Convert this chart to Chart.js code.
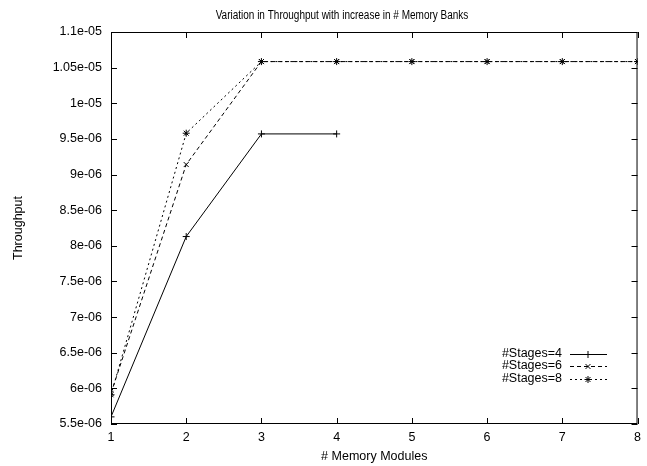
<!DOCTYPE html>
<html>
<head>
<meta charset="utf-8">
<script src="https://cdn.jsdelivr.net/npm/chart.js@4/dist/chart.umd.min.js"></script>
<style>
  html, body { margin: 0; padding: 0; background: #fff; }
  #wrap { width: 647px; height: 466px; }
</style>
</head>
<body>
<div id="wrap"><canvas id="grThroughput"></canvas></div>
<script>
const modules = [1, 2, 3, 4, 5, 6, 7, 8];

const stages4 = [5.6e-6, 8.13e-6, 9.57e-6, 9.57e-6];
const stages6 = [5.93e-6, 9.14e-6, 1.0585e-5, 1.0585e-5, 1.0585e-5, 1.0585e-5, 1.0585e-5, 1.0585e-5];
const stages8 = [5.91e-6, 9.58e-6, 1.0585e-5, 1.0585e-5, 1.0585e-5, 1.0585e-5, 1.0585e-5, 1.0585e-5];

const yTicks = [5.5e-6, 6e-6, 6.5e-6, 7e-6, 7.5e-6, 8e-6, 8.5e-6, 9e-6, 9.5e-6, 1e-5, 1.05e-5, 1.1e-5];
const yTickLabels = ['5.5e-06', '6e-06', '6.5e-06', '7e-06', '7.5e-06', '8e-06', '8.5e-06', '9e-06', '9.5e-06', '1e-05', '1.05e-05', '1.1e-05'];

const FONT = 'Liberation Sans, Arial, Helvetica, sans-serif';
const SIZE = 12.5;

function puntos(serie){
    return serie.map((v, i) => ({ x: modules[i], y: v }));
}

/* marco, ticks hacia adentro, titulo y leyenda estilo gnuplot */
const marcoPlugin = {
    id: 'marcoPlugin',
    afterDraw(chart) {
        const { ctx, chartArea: a, scales: { x, y } } = chart;
        ctx.save();
        ctx.strokeStyle = '#000';
        ctx.lineWidth = 1;
        ctx.strokeRect(a.left + 0.5, a.top + 0.5, a.right - a.left - 1, a.bottom - a.top - 1);

        ctx.beginPath();
        x.ticks.forEach(t => {
            const px = Math.round(x.getPixelForValue(t.value)) + 0.5;
            ctx.moveTo(px, a.bottom); ctx.lineTo(px, a.bottom - 6);
            ctx.moveTo(px, a.top); ctx.lineTo(px, a.top + 6);
        });
        y.ticks.forEach(t => {
            const py = Math.round(y.getPixelForValue(t.value)) + 0.5;
            ctx.moveTo(a.left, py); ctx.lineTo(a.left + 6, py);
            ctx.moveTo(a.right, py); ctx.lineTo(a.right - 6, py);
        });
        ctx.stroke();

        // titulo (letra angosta)
        ctx.fillStyle = '#000';
        ctx.font = SIZE + 'px ' + FONT;
        ctx.textAlign = 'center';
        ctx.textBaseline = 'alphabetic';
        ctx.save();
        ctx.translate(342, 19);
        ctx.scale(0.8, 1);
        ctx.fillText('Variation in Throughput with increase in # Memory Banks', 0, 0);
        ctx.restore();

        // leyenda
        const filas = [354, 366, 379];
        ctx.textAlign = 'right';
        ctx.textBaseline = 'middle';
        chart.data.datasets.forEach((ds, i) => {
            const fy = filas[i];
            ctx.fillStyle = '#000';
            ctx.fillText(ds.label, 562, fy);
            ctx.beginPath();
            ctx.setLineDash(ds.borderDash || []);
            ctx.moveTo(570, fy + 0.5);
            ctx.lineTo(607, fy + 0.5);
            ctx.stroke();
            ctx.setLineDash([]);
            Chart.helpers.drawPoint(ctx, {
                pointStyle: ds.pointStyle,
                radius: ds.pointRadius,
                borderWidth: 1
            }, 588, fy + 0.5);
        });
        ctx.restore();
    }
};

new Chart(document.getElementById('grThroughput').getContext('2d'), {
    type: 'line',
    data: {
        datasets: [{
            label: '#Stages=4',
            data: puntos(stages4),
            pointStyle: 'cross'
        }, {
            label: '#Stages=6',
            data: puntos(stages6),
            pointStyle: 'crossRot',
            borderDash: [4, 3]
        }, {
            label: '#Stages=8',
            data: puntos(stages8),
            pointStyle: 'star',
            borderDash: [2, 3]
        }].map(ds => Object.assign({
            borderColor: '#000',
            backgroundColor: '#000',
            borderWidth: 1,
            pointRadius: 3.5,
            pointBorderWidth: 1,
            pointBorderColor: '#000',
            tension: 0,
            fill: false
        }, ds))
    },
    options: {
        responsive: true,
        maintainAspectRatio: false,
        animation: false,
        layout: { padding: { top: 32, right: 0, left: 0, bottom: 0 } },
        plugins: {
            legend: { display: false },
            title: { display: false },
            tooltip: { enabled: false }
        },
        scales: {
            x: {
                type: 'linear',
                min: 1,
                max: 8,
                ticks: {
                    stepSize: 1,
                    padding: 6,
                    color: '#000',
                    font: { family: FONT, size: SIZE }
                },
                grid: { display: false, drawTicks: false },
                border: { display: false },
                title: {
                    display: true,
                    text: '# Memory Modules',
                    color: '#000',
                    font: { family: FONT, size: SIZE },
                    padding: { top: 0, bottom: 2 }
                },
                afterFit(scale) { scale.height = 42; }
            },
            y: {
                type: 'linear',
                min: 5.5e-6,
                max: 1.1e-5,
                afterBuildTicks(scale) {
                    scale.ticks = yTicks.map(v => ({ value: v }));
                },
                ticks: {
                    padding: 9,
                    color: '#000',
                    font: { family: FONT, size: SIZE },
                    callback: (v, i) => yTickLabels[i]
                },
                grid: { display: false, drawTicks: false },
                border: { display: false },
                title: {
                    display: true,
                    text: 'Throughput',
                    color: '#000',
                    font: { family: FONT, size: SIZE },
                    padding: { top: 11, bottom: 0 }
                },
                afterFit(scale) { scale.width = 111; }
            }
        }
    },
    plugins: [marcoPlugin]
});
</script>
</body>
</html>
